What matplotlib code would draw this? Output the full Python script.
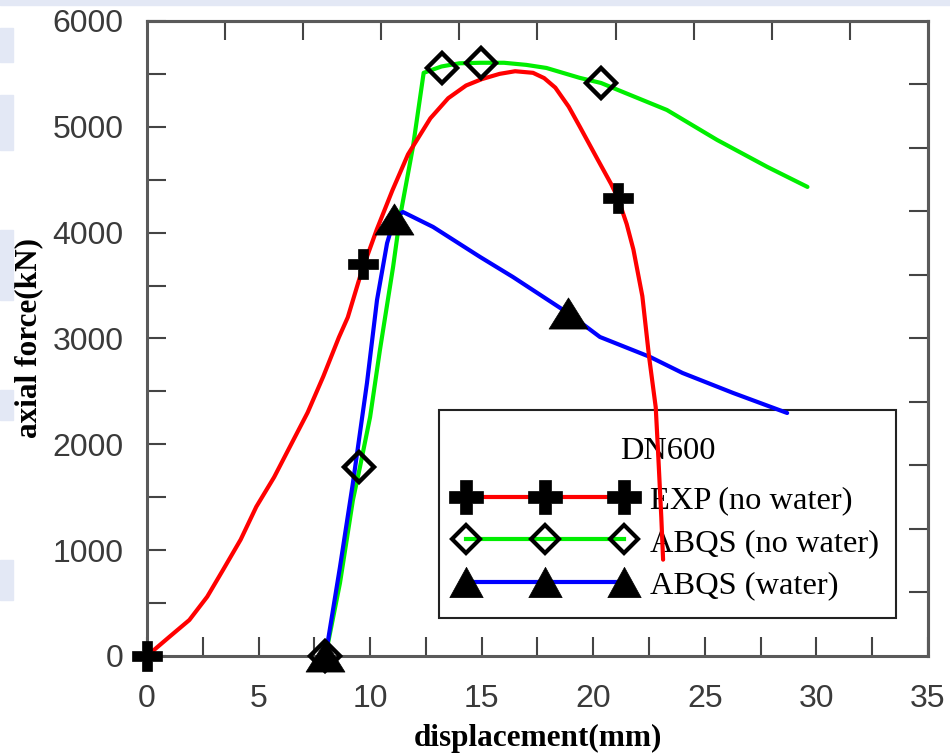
import matplotlib
matplotlib.use("Agg")
import matplotlib.pyplot as plt
from matplotlib.lines import Line2D
from matplotlib.path import Path
from matplotlib.patches import Rectangle
from matplotlib.ticker import MultipleLocator, FixedLocator

# ---------------- data ----------------
exp_x = [0, 1.0, 1.9, 2.7, 3.4, 4.2, 4.9, 5.7, 6.4, 7.2, 7.9, 8.6, 9.0, 9.6,
         10.3, 11.0, 11.7, 12.7, 13.5, 14.3, 15.0, 15.8, 16.5, 17.3, 17.8,
         18.3, 18.9, 19.4, 20.2, 20.8, 21.1, 21.5, 21.8, 22.2, 22.5, 22.8,
         22.9, 23.05, 23.13]
exp_y = [0, 180, 340, 560, 810, 1100, 1410, 1690, 1975, 2300, 2640, 3010,
         3200, 3620, 4030, 4400, 4740, 5080, 5270, 5390, 5450, 5500, 5525,
         5510, 5460, 5370, 5190, 5000, 4690, 4460, 4330, 4080, 3840, 3400,
         2830, 2350, 1950, 1310, 910]
exp_mx = [0, 9.7, 21.1]
exp_my = [0, 3700, 4330]

dry_x = [8.0, 8.65, 9.23, 9.55, 10.0, 10.44, 11.03, 11.34, 11.92, 12.4,
         13.2, 14.0, 14.95, 16.0, 17.0, 17.9, 19.4, 20.35, 21.2, 23.3,
         25.55, 27.8, 29.6]
dry_y = [0, 690, 1474, 1790, 2258, 2891, 3676, 4148, 4810, 5510,
         5570, 5600, 5605, 5605, 5585, 5556, 5462, 5414, 5340, 5159,
         4876, 4621, 4432]
dry_mx = [8.0, 9.5, 13.2, 14.95, 20.35]
dry_my = [0, 1790, 5560, 5600, 5410]

wet_x = [8.0, 8.65, 9.23, 9.86, 10.31, 10.76, 11.1, 11.47, 12.82, 14.93,
         16.4, 18.87, 20.3, 22.55, 24.0, 26.27, 28.69]
wet_y = [0, 841, 1635, 2580, 3364, 3900, 4140, 4195, 4054, 3770,
         3581, 3240, 3014, 2825, 2674, 2485, 2296]
wet_mx = [8.0, 11.05, 18.87]
wet_my = [0, 4130, 3240]

labels = ["EXP (no water)", "ABQS (no water)", "ABQS (water)"]
legend_title = "DN600"
xlabel = "displacement(mm)"
ylabel = "axial force(kN)"

# ---------------- styling ----------------
RED, GREEN, BLUE = "#ff0000", "#00ee00", "#0000ff"
SANS = ["Liberation Sans", "DejaVu Sans"]
SERIF = ["Liberation Serif", "DejaVu Serif"]

tri_plot = Path([(0, 1), (-1.25, -1), (1.25, -1), (0, 1)],
                [Path.MOVETO, Path.LINETO, Path.LINETO, Path.CLOSEPOLY])
tri_leg = Path([(0, 1), (-1.1, -1), (1.1, -1), (0, 1)],
               [Path.MOVETO, Path.LINETO, Path.LINETO, Path.CLOSEPOLY])

fig = plt.figure(figsize=(9.5, 7.54), dpi=100)

# faint slide-background remnants at the left and top edges
band_col = "#e3e8f5"
fig.patches.append(Rectangle((0, 0.994), 1, 0.006, transform=fig.transFigure,
                             color=band_col, zorder=0))
for y0, y1 in [(28, 62), (95, 150), (230, 300), (390, 420), (560, 600)]:
    fig.patches.append(Rectangle((0, 1 - y1 / 754), 13 / 950, (y1 - y0) / 754,
                                 transform=fig.transFigure, color=band_col,
                                 zorder=0))

ax = fig.add_axes([0.1547, 0.1300, 0.8221, 0.8422])
ax.patch.set_alpha(0)

lw = 3.0
ax.plot(exp_x, exp_y, color=RED, lw=lw, zorder=2.2, solid_capstyle="round",
        solid_joinstyle="round")
ax.plot(dry_x, dry_y, color=GREEN, lw=lw, zorder=2, solid_capstyle="round",
        solid_joinstyle="round")
ax.plot(wet_x, wet_y, color=BLUE, lw=lw, zorder=2.1, solid_capstyle="round",
        solid_joinstyle="round")

ax.plot(exp_mx, exp_my, ls="none", marker="P", ms=22, mfc="black",
        mec="black", mew=0.5, zorder=4, clip_on=False)
ax.plot(dry_mx, dry_my, ls="none", marker="D", ms=15.5, mfc="none",
        mec="black", mew=3.2, zorder=4, clip_on=False)
ax.plot(wet_mx, wet_my, ls="none", marker=tri_plot, ms=28, mfc="black",
        mec="black", mew=0.5, zorder=5, clip_on=False)

ax.set_xlim(0, 35)
ax.set_ylim(0, 6000)
ax.xaxis.set_major_locator(MultipleLocator(5))
ax.xaxis.set_minor_locator(MultipleLocator(2.5))
ax.yaxis.set_major_locator(MultipleLocator(1000))
ax.yaxis.set_minor_locator(MultipleLocator(500))

tick_col = "#444444"
for which in ("major", "minor"):
    ax.tick_params(axis="both", which=which, direction="in", length=13.5,
                   width=1.5, color=tick_col, top=False, right=False)
ax.tick_params(axis="x", which="major", pad=20, labelsize=23,
               labelcolor="#3a3a3a")
ax.tick_params(axis="y", which="major", pad=17, labelsize=23,
               labelcolor="#3a3a3a")
for lab in ax.get_xticklabels() + ax.get_yticklabels():
    lab.set_fontfamily(SANS)

# top and right ticks (different spacing, no labels)
secx = ax.secondary_xaxis("top")
secx.xaxis.set_major_locator(FixedLocator([3.5 * i for i in range(1, 10)]))
secx.tick_params(direction="in", length=13.5, width=1.5, color=tick_col,
                 labeltop=False)
secy = ax.secondary_yaxis("right")
secy.yaxis.set_major_locator(FixedLocator([600 * i for i in range(1, 10)]))
secy.tick_params(direction="in", length=13.5, width=1.5, color=tick_col,
                 labelright=False)
for a in (ax, secx, secy):
    for sp in a.spines.values():
        sp.set_color("#5a5a5a")
        sp.set_linewidth(2.2)

ax.set_xlabel(xlabel, fontsize=22.5, fontweight="bold", family=SERIF)
ax.set_ylabel(ylabel, fontsize=22.5, fontweight="bold", family=SERIF)
ax.xaxis.label.set_va("center")
ax.yaxis.label.set_va("center")
ax.xaxis.set_label_coords(0.5, -0.13)
ax.yaxis.set_label_coords(-0.152, 0.5)

handles = [
    Line2D([], [], color=RED, lw=lw, marker="P", ms=24, mfc="black",
           mec="black", mew=0.5),
    Line2D([], [], color=GREEN, lw=lw, marker="D", ms=14, mfc="none",
           mec="black", mew=3.0),
    Line2D([], [], color=BLUE, lw=lw, marker=tri_leg, ms=24, mfc="black",
           mec="black", mew=0.5),
]
leg = ax.legend(handles, labels, title="\n" + legend_title,
                numpoints=3, loc="upper left", bbox_to_anchor=(0.374, 0.387),
                prop={"family": SERIF, "size": 23.4},
                title_fontproperties={"family": SERIF, "size": 23.4},
                handlelength=5.46, handletextpad=0.49, borderpad=0.53,
                labelspacing=0.4, fancybox=False, framealpha=1,
                facecolor="none", edgecolor="#222222", borderaxespad=0)
leg.get_title().set_linespacing(0.12)
# a little more room between the title and the first entry
if hasattr(leg, "_legend_box") and hasattr(leg._legend_box, "sep"):
    leg._legend_box.sep = 0.4 * 23.4 + 4.5
leg.get_frame().set_linewidth(1.5)
leg.set_zorder(1.5)

fig.savefig("out.png", dpi=100)
